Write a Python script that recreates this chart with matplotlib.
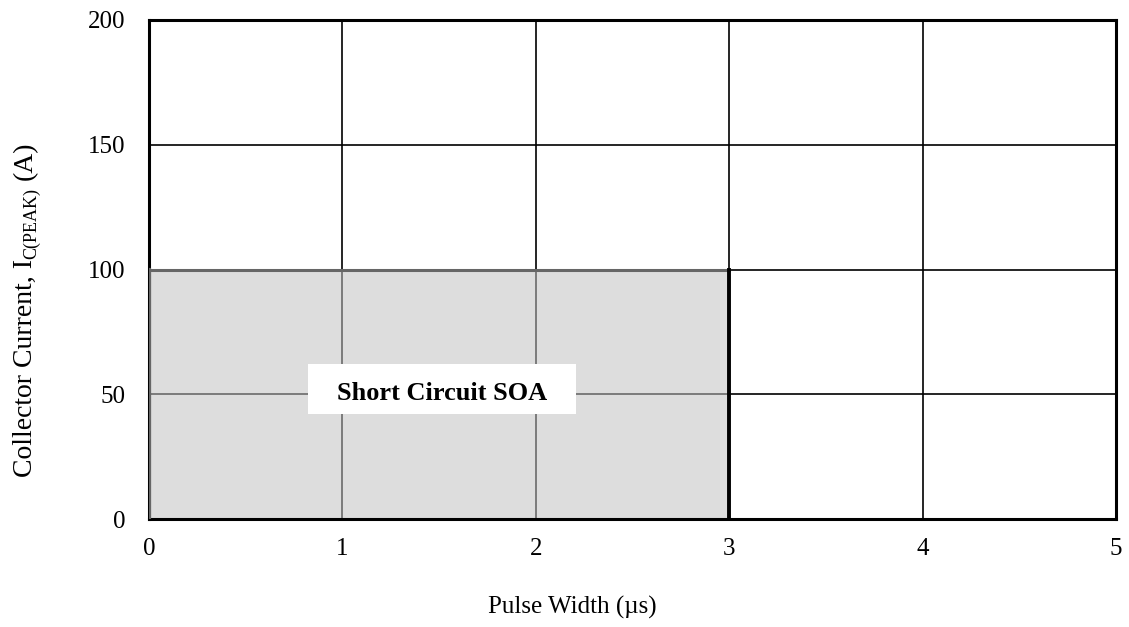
import matplotlib.pyplot as plt
from matplotlib.patches import Rectangle

# data
x_ticks = [0, 1, 2, 3, 4, 5]
y_ticks = [0, 50, 100, 150, 200]
soa_width = 3      # us
soa_current = 100  # A
soa_label = 'Short Circuit SOA'

plt.rcParams['font.family'] = ['Liberation Serif', 'DejaVu Serif']

W, H = 1129, 627
fig = plt.figure(figsize=(W / 100, H / 100), dpi=100)
ax = fig.add_axes([149 / W, 1 - 519 / H, 967 / W, 499 / H])

ax.set_xlim(0, 5)
ax.set_ylim(0, 200)
ax.set_xticks(x_ticks)
ax.set_yticks(y_ticks)
ax.tick_params(labelsize=18, length=0)
ax.tick_params(axis='x', pad=14)
ax.tick_params(axis='y', pad=17)
ax.grid(True, color='black', lw=1.2)
ax.set_axisbelow(True)

for s in ax.spines.values():
    s.set_linewidth(2.2)

# shaded SOA region
ax.add_patch(Rectangle((0, 0), soa_width, soa_current, facecolor=(0.76, 0.76, 0.76),
                       alpha=0.55, edgecolor='none', zorder=2))
ax.plot([0, soa_width], [soa_current, soa_current], color='#666666', lw=2.2, zorder=3)
ax.plot([0, 0], [0, soa_current], color='#666666', lw=3, zorder=3)
ax.plot([soa_width, soa_width], [0, soa_current], color='black', lw=2.8, zorder=3)

# label with white box
ax.add_patch(Rectangle((0.822, 42.1), 1.386, 20.0, facecolor='white', edgecolor='none', zorder=4))
ax.text(1.515, 47.7, soa_label, fontsize=19, fontweight='bold', ha='center', va='baseline', zorder=5)

fig.text(572 / W, 1 - 607 / H, 'Pulse Width (µs)', fontsize=18, ha='center', va='center')

# y label built from pieces so the subscript can be sized like the reference
r = fig.canvas.get_renderer()
base_x = 32      # baseline, px from left
y0 = H - 477     # start, px from bottom
pieces = [('Collector Current, I', 20, 0, 0), ('C(PEAK)', 13, 4, 8), ('(A)', 20, 0, 0)]
for txt, size, drop, gap in pieces:
    t = fig.text((base_x + drop) / W, y0 / H, txt, fontsize=size, rotation=90,
                 rotation_mode='anchor', ha='left', va='baseline')
    y0 = t.get_window_extent(r).y1 + gap

plt.savefig('out.png')
